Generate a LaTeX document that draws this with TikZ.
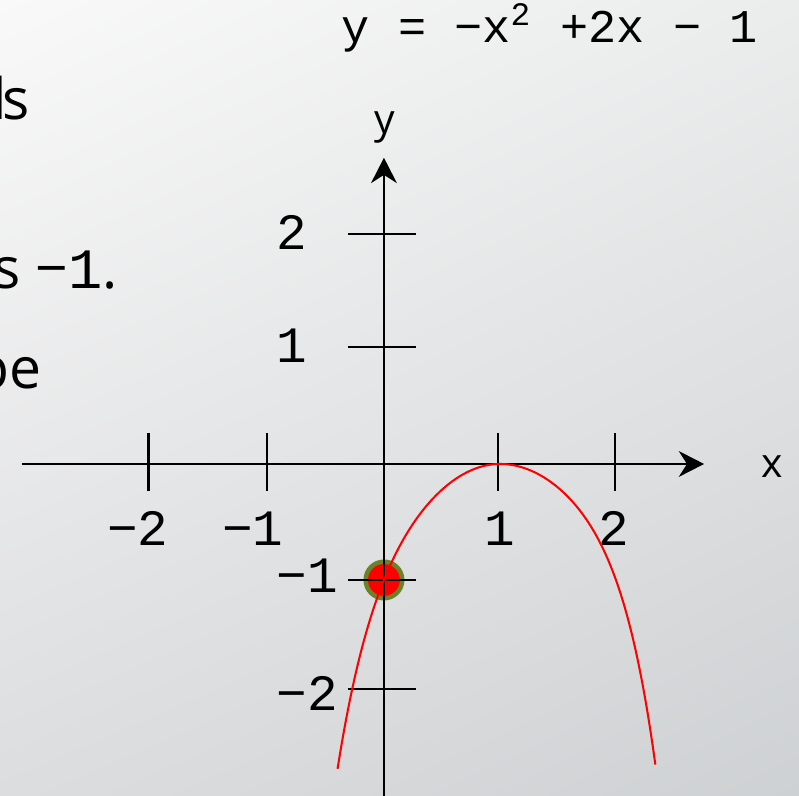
\documentclass[tikz,border=0pt]{standalone}
\usepackage{fontspec}
\setmainfont{Open Sans}
\newfontfamily\monofont{Liberation Mono}
\usetikzlibrary{arrows.meta,positioning,shadings}
\definecolor{bgul}{HTML}{F9F9F9}
\definecolor{bgur}{HTML}{EBECEC}
\definecolor{bgll}{HTML}{DCDDDF}
\definecolor{bglr}{HTML}{CED1D3}
\definecolor{dotring}{RGB}{106,130,40}
\tikzset{
  axisline/.style={line width=0.7pt,-{Stealth[length=6.2pt,width=6.3pt,inset=2pt]}},
  axistick/.style={line width=0.55pt},
  ticklabel/.style={font=\monofont\fontsize{12.5}{14}\selectfont,inner sep=0pt},
  axislabel/.style={font=\fontsize{10}{12}\selectfont,inner sep=0pt},
  slidetext/.style={font=\fontsize{14}{17}\selectfont,inner sep=0pt,anchor=base east},
}

\begin{document}
\begin{tikzpicture}
    % page and background
    \useasboundingbox (-3.31,-2.862) rectangle (3.578,4.0);
    \clip (-3.31,-2.862) rectangle (3.578,4.0);
    \shade[upper left=bgul,upper right=bgur,lower left=bgll,lower right=bglr]
        (-3.31,-2.862) rectangle (3.578,4.0);

    % cut-off slide text on the left
    \node[slidetext] (txtA) at (-3.05,2.966) {l\kern-1.2pt s};
    \node[slidetext] (txtB) at (-2.29,1.517) {s −{\monofont 1}.};
    \node[slidetext] (txtC) at (-2.945,0.655) {pe};

    % equation
    \node[font=\monofont\fontsize{11.5}{14}\selectfont,inner sep=0pt,anchor=base west]
        (eqn) at (-0.37,3.63) {y = −x\textsuperscript{2} +2x − 1};

    % y-intercept
    \node[circle,fill=red,draw=dotring,line width=1.1pt,minimum size=0.315cm,inner sep=0pt]
        (yint) at (0,-1) {};

    % axes
    \coordinate (xstart) at (-3.12,0);
    \coordinate (xend) at (2.76,0);
    \coordinate (ystart) at (0,-2.95);
    \coordinate (yend) at (0,2.64);
    \draw[axisline] (xstart) -- (xend);
    \draw[axisline] (ystart) -- (yend);
    \node[axislabel,anchor=base] (xlab) at (3.345,-0.12) {x};
    \node[axislabel,anchor=base] (ylab) at (0.01,2.853) {y};

    % ticks
    \foreach \t in {-2.03,-1.01,0.985,1.99}
        \draw[axistick] (\t,0.265) -- (\t,-0.235);
    \foreach \t in {1.983,1.009,-1.0,-1.94}
        \draw[axistick] (-0.31,\t) -- (0.28,\t);

    % tick labels
    \node[ticklabel,anchor=base east] (lxm2) at (-1.85,-0.707) {−2};
    \node[ticklabel,anchor=base east] (lxm1) at (-0.86,-0.707) {−1};
    \node[ticklabel,anchor=base] (lx1) at (1.0,-0.707) {1};
    \node[ticklabel,anchor=base] (lx2) at (1.98,-0.707) {2};
    \node[ticklabel,anchor=base west] (ly2) at (-0.93,1.853) {2};
    \node[ticklabel,anchor=base west] (ly1) at (-0.93,0.871) {1};
    \node[ticklabel,anchor=base west] (lym1) at (-0.93,-1.112) {−1};
    \node[ticklabel,anchor=base west] (lym2) at (-0.93,-2.121) {−2};

    % curve (left and right half, vertex at (1,0))
    \draw[red,line width=0.5pt,domain=-1.40:0,samples=60,smooth]
        plot ({1+\x},{-(0.88*\x*\x+0.12*(\x*\x)^3)});
    \draw[red,line width=0.5pt,domain=0:1.34,samples=60,smooth]
        plot ({1+\x},{-(0.8*\x*\x+0.2*(\x*\x)^3)});
\end{tikzpicture}
\end{document}
